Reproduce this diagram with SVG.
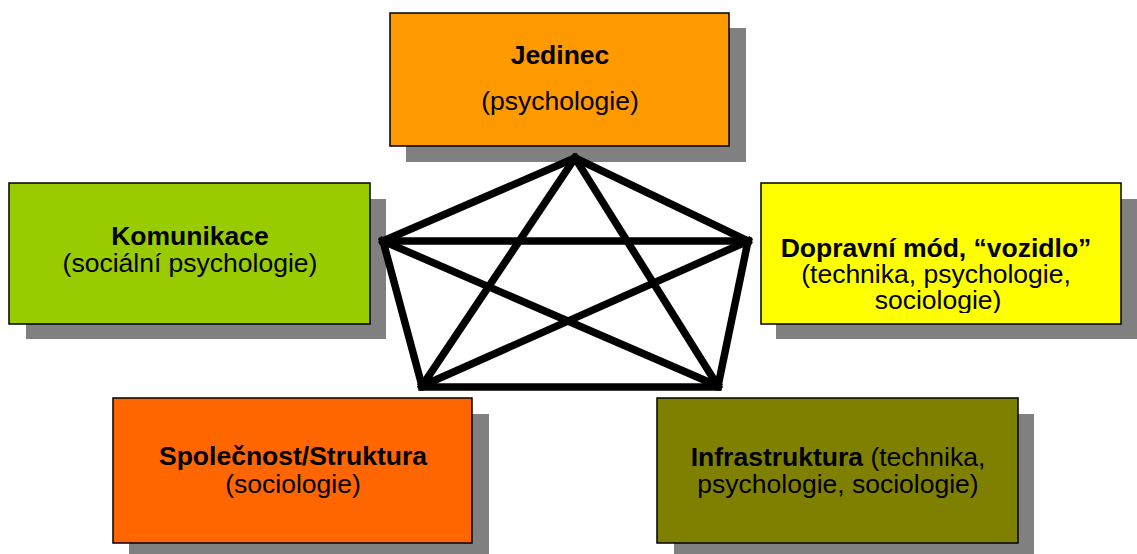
<svg xmlns="http://www.w3.org/2000/svg" width="1137" height="554" viewBox="0 0 1137 554">
<style>
.shadow{fill:#808080;stroke:none}
.box{stroke:#000;stroke-width:1.5}
text{font-family:"Liberation Sans",Arial,sans-serif;font-size:26.5px;fill:#000;text-anchor:middle}
.b{font-weight:bold}
.edge{stroke:#000;stroke-width:7.5;stroke-linecap:square;fill:none}
</style>
<defs>
<clipPath id="clipDop"><rect x="760" y="183" width="361" height="130"/></clipPath>
</defs>
<rect x="0" y="0" width="1137" height="554" fill="#fff"/>
<g id="jedinec">
<rect class="shadow" x="406" y="28" width="340" height="134"/>
<rect class="box" x="390" y="13" width="339" height="133" fill="#FF9900"/>
<text x="560" y="64" class="b">Jedinec</text>
<text x="560" y="110">(psychologie)</text>
</g>
<g id="komunikace">
<rect class="shadow" x="26" y="199" width="360" height="140"/>
<rect class="box" x="9" y="183" width="361" height="141" fill="#99CC00"/>
<text x="190" y="245" class="b">Komunikace</text>
<text x="190" y="272">(sociální psychologie)</text>
</g>
<g id="dopravni">
<rect class="shadow" x="776" y="199" width="361" height="140"/>
<rect class="box" x="761" y="183" width="360" height="141" fill="#FFFF00"/>
<g clip-path="url(#clipDop)">
<text x="936" y="257" class="b">Dopravní mód, “vozidlo”</text>
<text x="936" y="283">(technika, psychologie,</text>
<text x="938" y="309">sociologie)</text>
</g>
</g>
<g id="spolecnost">
<rect class="shadow" x="129" y="414" width="360" height="140"/>
<rect class="box" x="113" y="398" width="359" height="145" fill="#FF6600"/>
<text x="293" y="465" class="b">Společnost/Struktura</text>
<text x="293" y="493">(sociologie)</text>
</g>
<g id="infrastruktura">
<rect class="shadow" x="674" y="414" width="360" height="140"/>
<rect class="box" x="657" y="398" width="361" height="145" fill="#808000"/>
<text x="838" y="466"><tspan class="b">Infrastruktura</tspan> (technika,</text>
<text x="838" y="493">psychologie, sociologie)</text>
</g>
<g id="connectors">
<line class="edge" x1="575" y1="158" x2="383" y2="241"/>
<line class="edge" x1="575" y1="158" x2="748" y2="241"/>
<line class="edge" x1="383" y1="241" x2="422" y2="386"/>
<line class="edge" x1="748" y1="241" x2="718" y2="386"/>
<line class="edge" x1="422" y1="387" x2="718" y2="387"/>
<line class="edge" x1="575" y1="158" x2="422" y2="386"/>
<line class="edge" x1="575" y1="158" x2="718" y2="386"/>
<line class="edge" x1="383" y1="241" x2="748" y2="241"/>
<line class="edge" x1="383" y1="241" x2="718" y2="386"/>
<line class="edge" x1="748" y1="241" x2="422" y2="386"/>
</g>
</svg>
